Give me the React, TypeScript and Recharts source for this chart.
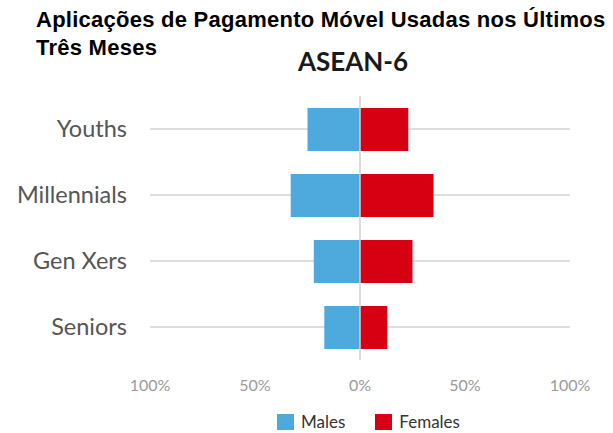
import { BarChart, Bar, XAxis, YAxis, CartesianGrid, ReferenceLine } from 'recharts';

const groups = ['Youths', 'Millennials', 'Gen Xers', 'Seniors'];
const males = [25, 33, 22, 17];
const females = [23, 35, 25, 13];
const xTicks = [-100, -50, 0, 50, 100];

const BLUE = '#4eaadd';
const RED = '#d60012';

const data = groups.map((name, i) => ({ name, males: -males[i], females: females[i] }));

export default function App() {
  return (
    <div style={{ position: 'absolute', left: 0, top: 0, width: 613, height: 433, background: '#fff', overflow: 'hidden' }}>
      <div
        style={{
          position: 'absolute',
          left: 36,
          top: 6,
          width: 600,
          fontFamily: '"Liberation Sans", Arial, sans-serif',
          fontWeight: 700,
          fontSize: 22,
          lineHeight: '28px',
          letterSpacing: 0.25,
          color: '#000',
          whiteSpace: 'nowrap',
        }}
      >
        Aplicações de Pagamento Móvel Usadas nos Últimos
        <br />
        Três Meses
      </div>
      <div
        style={{
          position: 'absolute',
          left: 253,
          width: 200,
          top: 45,
          textAlign: 'center',
          fontFamily: 'Lato, sans-serif',
          fontWeight: 700,
          fontSize: 26,
          color: '#1a1a1a',
        }}
      >
        ASEAN-6
      </div>

      <div style={{ position: 'absolute', left: 0, top: 0 }}>
        <BarChart
          width={613}
          height={433}
          data={data}
          layout="vertical"
          stackOffset="sign"
          margin={{ top: 96, right: 43, bottom: 43, left: 0 }}
        >
          <CartesianGrid horizontal={true} vertical={false} syncWithTicks={true} stroke="#dedede" strokeWidth={2} />
          <XAxis
            type="number"
            domain={[-100, 100]}
            ticks={xTicks}
            height={30}
            axisLine={false}
            tickLine={false}
            tickMargin={14}
            tick={{ fill: '#9a9a9a', fontSize: 16, fontFamily: 'Lato, sans-serif' }}
            tickFormatter={(v: number) => `${Math.abs(v)}%`}
          />
          <YAxis
            type="category"
            dataKey="name"
            width={150}
            axisLine={false}
            tickLine={false}
            tickMargin={17}
            tick={{ fill: '#555', fontSize: 23.5, fontFamily: 'Lato, sans-serif' }}
          />
          <Bar dataKey="males" name="Males" stackId="a" fill={BLUE} barSize={43} isAnimationActive={false} />
          <Bar dataKey="females" name="Females" stackId="a" fill={RED} barSize={43} isAnimationActive={false} />
          <ReferenceLine x={0} stroke="#d0d0d0" strokeWidth={1.5} />
        </BarChart>
      </div>

      <div
        style={{
          position: 'absolute',
          top: 411,
          left: 277,
          display: 'flex',
          alignItems: 'center',
          fontFamily: 'Lato, sans-serif',
          fontSize: 17,
          color: '#333',
        }}
      >
        <span style={{ width: 17, height: 16, background: BLUE, display: 'inline-block', marginRight: 7 }} />
        <span style={{ marginRight: 30 }}>Males</span>
        <span style={{ width: 17, height: 16, background: RED, display: 'inline-block', marginRight: 7 }} />
        <span>Females</span>
      </div>
    </div>
  );
}
